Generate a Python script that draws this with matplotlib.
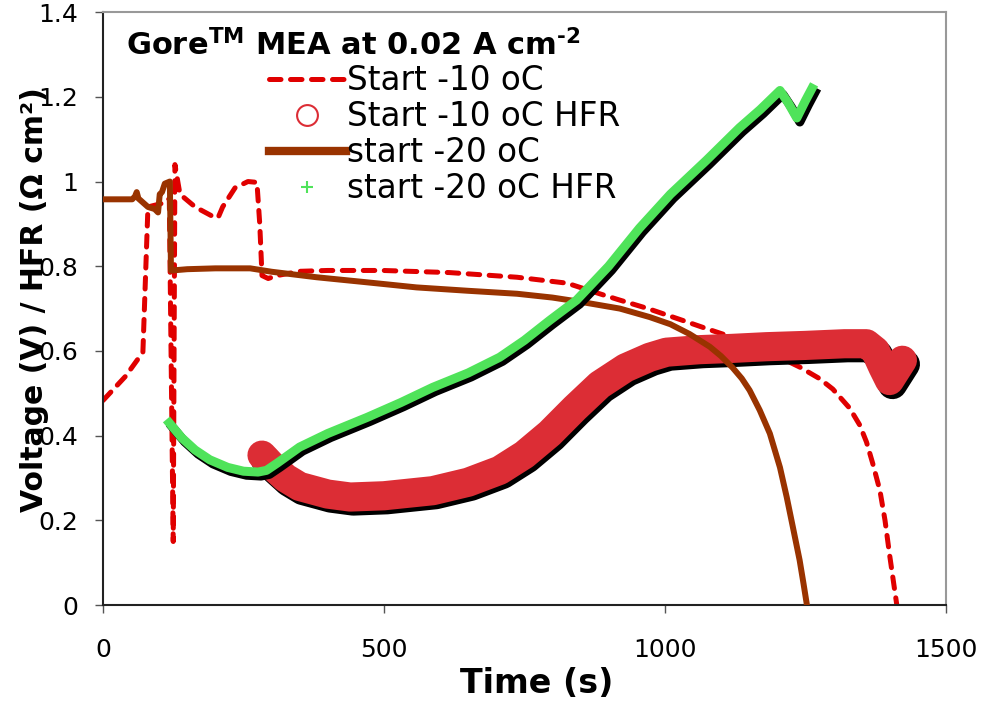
import matplotlib
matplotlib.use("Agg")
import matplotlib.pyplot as plt
import matplotlib.transforms as mtransforms
from matplotlib.lines import Line2D
from matplotlib.ticker import FormatStrFormatter

plt.rcParams['font.family'] = ['DejaVu Sans']

# Start -10 oC : cell voltage
t_v10 = [0, 40, 71, 75, 80, 95, 110, 118, 125, 128, 137, 164, 185, 199, 205, 213, 235,
         258, 274, 279, 283, 294, 310, 350, 400, 498, 617, 737, 826, 884, 915, 970, 1032,
         1080, 1121, 1181, 1240, 1275, 1299, 1329, 1347, 1359, 1370, 1383, 1392, 1400,
         1413, 1420]
v10 = [0.483, 0.54, 0.597, 0.75, 0.94, 0.945, 0.95, 0.96, 0.15, 1.04, 0.97, 0.94, 0.925,
       0.915, 0.915, 0.94, 0.985, 1.0, 0.998, 0.9, 0.778, 0.771, 0.778, 0.788, 0.79,
       0.79, 0.785, 0.774, 0.76, 0.735, 0.722, 0.7, 0.672, 0.65, 0.632, 0.6, 0.562,
       0.535, 0.51, 0.465, 0.425, 0.385, 0.335, 0.27, 0.2, 0.12, 0.0, -0.03]

# Start -10 oC : HFR
t_hfr10 = [283, 300, 325, 350, 400, 440, 500, 587, 650, 706, 750, 795, 840, 884, 930,
           973, 1003, 1062, 1120, 1181, 1250, 1320, 1359, 1375, 1388, 1400, 1412, 1423]
hfr10 = [0.354, 0.33, 0.3, 0.28, 0.262, 0.255, 0.258, 0.27, 0.29, 0.318, 0.355, 0.405,
         0.465, 0.52, 0.56, 0.585, 0.597, 0.603, 0.606, 0.61, 0.613, 0.617, 0.617, 0.6,
         0.562, 0.53, 0.555, 0.578]

# start -20 oC : cell voltage
t_v20 = [0, 52, 57, 60, 63, 80, 92, 98, 101, 105, 110, 119, 121, 123, 150, 200, 262, 300,
         380, 470, 558, 650, 737, 800, 854, 920, 973, 1010, 1044, 1080, 1100, 1121, 1137,
         1151, 1169, 1187, 1205, 1217, 1228, 1240, 1247, 1253]
v20 = [0.958, 0.958, 0.965, 0.975, 0.96, 0.94, 0.935, 0.927, 0.97, 0.975, 0.995, 1.0,
       0.79, 0.79, 0.793, 0.795, 0.795, 0.787, 0.774, 0.762, 0.75, 0.742, 0.735, 0.726,
       0.715, 0.7, 0.68, 0.663, 0.64, 0.61, 0.588, 0.56, 0.535, 0.507, 0.46, 0.405,
       0.325, 0.255, 0.184, 0.106, 0.05, 0.0]

# start -20 oC : HFR
t_hfr20 = [118, 140, 164, 190, 222, 250, 276, 291, 310, 350, 400, 470, 530, 587, 650, 706,
           750, 795, 843, 900, 955, 1010, 1074, 1133, 1170, 1205, 1220, 1235, 1250, 1262]
hfr20 = [0.43, 0.395, 0.366, 0.343, 0.325, 0.316, 0.314, 0.318, 0.335, 0.373, 0.405, 0.443,
         0.478, 0.514, 0.548, 0.585, 0.625, 0.672, 0.72, 0.8, 0.89, 0.97, 1.05, 1.127,
         1.17, 1.215, 1.185, 1.15, 1.19, 1.22]

red_dash = '#E00000'
red_hfr = '#DC2D35'
brown = '#993300'
green = '#4FE35A'

fig = plt.figure(figsize=(9.81, 7.05), dpi=100)
ax = fig.add_axes([0.105, 0.1418, 0.859, 0.841])

# drop shadow for the HFR series: same path, shifted a few pixels right/down
shift = mtransforms.offset_copy(ax.transData, fig=fig, x=3, y=-4, units='dots')

ax.plot(t_v10, v10, color=red_dash, lw=3.6, dashes=(2.3, 1.9),
        dash_capstyle='round', zorder=1)
ax.plot(t_hfr10, hfr10, color='black', lw=21, solid_capstyle='round',
        solid_joinstyle='round', transform=shift, zorder=2)
ax.plot(t_hfr10, hfr10, color=red_hfr, lw=21, solid_capstyle='round',
        solid_joinstyle='round', zorder=2.1)
ax.plot(t_v20, v20, color=brown, lw=4.3, solid_joinstyle='round', zorder=3)
ax.plot(t_hfr20, hfr20, color='black', lw=6.5, solid_joinstyle='round',
        transform=shift, zorder=4)
ax.plot(t_hfr20, hfr20, color=green, lw=6.5, solid_joinstyle='round', zorder=4.1)

ax.set_xlim(0, 1500)
ax.set_ylim(0, 1.4)
ax.set_xticks([0, 500, 1000, 1500])
ax.set_yticks([0, 0.2, 0.4, 0.6, 0.8, 1.0, 1.2, 1.4])
ax.yaxis.set_major_formatter(FormatStrFormatter('%g'))
ax.tick_params(axis='both', direction='out', length=6, width=1, color='#555555',
               labelsize=18)
ax.tick_params(axis='x', pad=18)
ax.tick_params(axis='y', pad=12)

for s in ['top', 'right']:
    ax.spines[s].set_color('#999999')
    ax.spines[s].set_linewidth(1.5)
for s in ['left', 'bottom']:
    ax.spines[s].set_color('#222222')
    ax.spines[s].set_linewidth(1.5)

ax.set_xlabel('Time (s)', fontsize=24, fontweight='bold')
ax.xaxis.set_label_coords(0.515, -0.105)
fig.text(35 / 981, 0.575, 'Voltage (V) / HFR (\u03a9 cm\u00b2)', rotation=90,
         ha='center', va='center', fontsize=21.5, fontweight='bold')

ax.text(0.027, 0.9275, 'Gore$^{\\mathbf{TM}}$ MEA at 0.02 A cm$^{\\mathbf{\u20102}}$',
        transform=ax.transAxes, fontsize=22, fontweight='bold', va='baseline', ha='left')

handles = [
    Line2D([], [], color=red_dash, lw=3.6, dashes=(2.3, 1.9), dash_capstyle='round'),
    Line2D([], [], ls='none', marker='o', ms=15, mfc='none', mec=red_hfr, mew=1.5),
    Line2D([], [], color=brown, lw=6),
    Line2D([], [], ls='none', marker='+', ms=9, mec=green, mew=1.5),
]
labels = ['Start -10 oC', 'Start -10 oC HFR', 'start -20 oC', 'start -20 oC HFR']
ax.legend(handles, labels, loc='upper left', bbox_to_anchor=(0.197, 0.912),
          frameon=False, fontsize=23.5, handlelength=2.35, handletextpad=0.05,
          labelspacing=0.09, borderpad=0, borderaxespad=0)

fig.savefig('out.png', dpi=100)
